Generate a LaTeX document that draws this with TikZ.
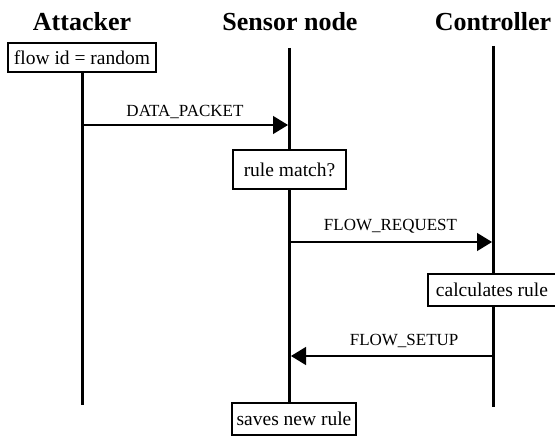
\documentclass[tikz,border=0pt]{standalone}
\usepackage{fontspec}
\setmainfont{Liberation Serif}
\usetikzlibrary{arrows.meta}
\tikzset{
    lifeline/.style={line width=3pt},
    msg/.style={line width=1.3pt, -{Triangle[length=15pt,width=18pt]}},
    msglabel/.style={font=\fontsize{17}{20}\selectfont, anchor=base},
    actor/.style={font=\fontsize{26}{30}\selectfont\bfseries, anchor=base},
    action/.style={draw, line width=1.3pt, fill=white, inner sep=0pt,
        font=\fontsize{19.5}{22}\selectfont}
}

\begin{document}
\begin{tikzpicture}[x=1pt, y=1pt]
    \useasboundingbox (0,0) rectangle (555,-436);

    \node [actor] (att) at (82,-31) {Attacker};
    \node [actor] (sen) at (290,-31) {Sensor node};
    \node [actor] (con) at (493,-31) {Controller};

    \coordinate (attend) at (82,-405);
    \coordinate (sentop) at (289,-48);
    \coordinate (senend) at (289,-403);
    \coordinate (contop) at (493,-46);
    \coordinate (conend) at (493,-407);

    %%%%%%

    \node [action, minimum width=148, minimum height=29] (flowid) at (82,-57.5) {flow id = random};
    \draw [lifeline] (flowid.south) -- (attend);
    \draw [lifeline] (sentop) -- (senend);
    \draw [lifeline] (contop) -- (conend);

    %%%%%%

    \coordinate (att1) at (82,-125);
    \coordinate (sen1) at (288,-125);
    \draw [msg] (att1) -- (sen1) node [msglabel, pos=0.5, yshift=8pt] (data) {DATA\_PACKET};

    \node [action, minimum width=113, minimum height=39] (match) at (289.5,-169.5) {rule match?};

    \coordinate (sen2) at (289,-242);
    \coordinate (con2) at (492,-242);
    \draw [msg] (sen2) -- (con2) node [msglabel, pos=0.5, yshift=12pt] (req) {FLOW\_REQUEST};

    \node [action, minimum width=128, minimum height=32] (calc) at (492,-290) {calculates rule};

    \coordinate (con3) at (493,-356);
    \coordinate (sen3) at (291,-356);
    \draw [msg] (con3) -- (sen3) node [msglabel, pos=0.44, yshift=11pt] (setup) {FLOW\_SETUP};

    \node [action, minimum width=124, minimum height=32] (saves) at (294,-419) {saves new rule};

\end{tikzpicture}
\end{document}
